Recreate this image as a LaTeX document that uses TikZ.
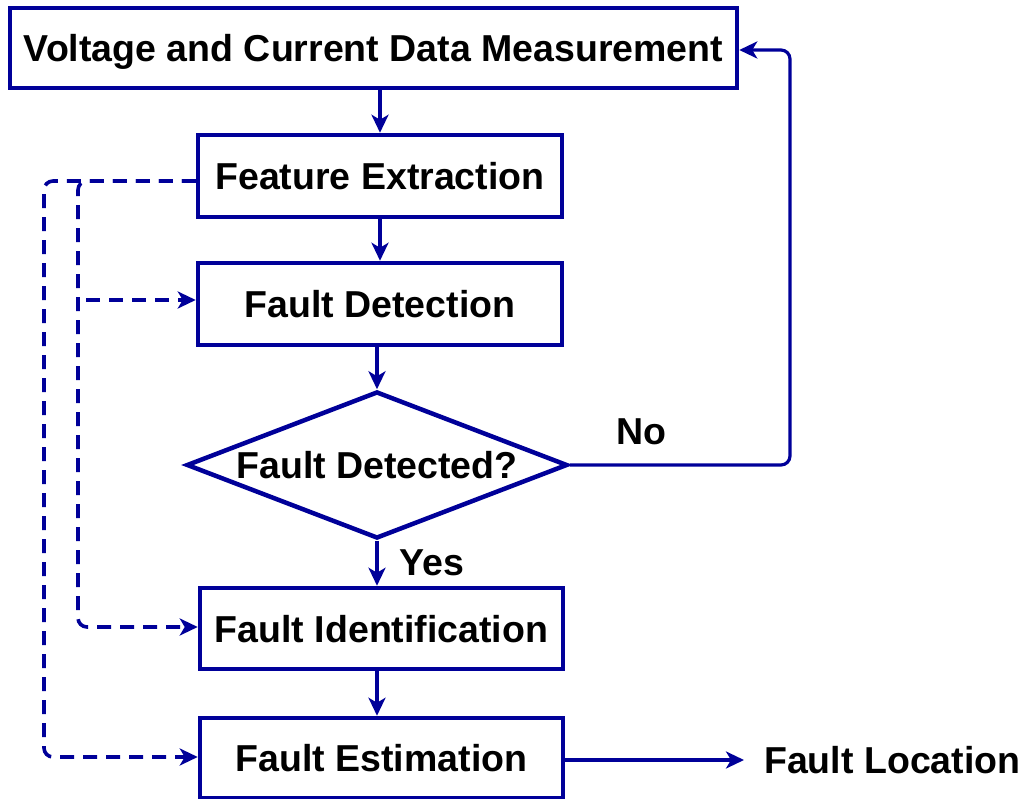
\documentclass[tikz,border=0pt]{standalone}
\usepackage{fontspec}
\setmainfont{Liberation Sans}
\usetikzlibrary{arrows.meta,shapes.geometric}
\definecolor{flowblue}{RGB}{0,0,153}
\tikzset{
  boldtext/.style={font=\fontsize{37.5}{44}\selectfont\bfseries, text=black,
    text height=27pt, text depth=0pt},
  stepbox/.style={draw=flowblue, line width=4.5pt, rectangle, inner sep=0pt, boldtext},
  decision/.style={draw=flowblue, line width=4.5pt, diamond, inner sep=0pt,
    shape aspect=2.59, boldtext},
  lbl/.style={boldtext, inner sep=0pt},
  flow/.style={draw=flowblue, line width=3.2pt,
    -{Stealth[length=18pt, width=17pt, inset=5pt]}},
  feed/.style={flow, dash pattern=on 14pt off 9pt, line width=3.6pt},
}
\begin{document}
\begin{tikzpicture}[x=1pt, y=-1pt]
  \useasboundingbox (0,0) rectangle (1026,799);

  % process steps
  \node[stepbox, minimum width=727pt, minimum height=80pt] (meas) at (373.5,48)
    {Voltage and Current Data Measurement};
  \node[stepbox, minimum width=364pt, minimum height=82pt] (feat) at (380,176)
    {Feature Extraction};
  \node[stepbox, minimum width=364pt, minimum height=82pt] (det) at (380,304)
    {Fault Detection};
  \node[decision, minimum width=381pt, minimum height=147pt] (dec) at (377,465)
    {Fault Detected?};
  \node[stepbox, minimum width=363pt, minimum height=81pt] (ident) at (381.5,628.5)
    {Fault Identification};
  \node[stepbox, minimum width=363pt, minimum height=80pt] (est) at (381.5,758)
    {Fault Estimation};
  \node[lbl, anchor=west] (loc) at (764,760) {Fault Location};

  % branch labels
  \node[lbl] (no) at (641,431) {No};
  \node[lbl] (yes) at (432,562) {Yes};

  % main flow
  \draw[flow] (feat.north |- meas.south) -- (feat.north);
  \draw[flow] (feat.south) -- (det.north);
  \draw[flow] (det.south -| dec.north) -- (dec.north);
  \draw[flow] (dec.south) -- (dec.south |- ident.north);
  \draw[flow] (dec.south |- ident.south) -- (dec.south |- est.north);
  \draw[flow] (est.east |- loc.west) -- ([xshift=-20pt]loc.west);

  % loop back when no fault is found
  \coordinate (loopx) at (790,0);
  \draw[flow, rounded corners=9pt] (dec.east) -- (loopx |- dec.east)
    -- (loopx |- 0,50) -- (meas.east |- 0,50);

  % features passed on to the later stages
  \coordinate (outerx) at (44,0);
  \coordinate (innerx) at (78,0);
  \coordinate (tap) at (86,300);
  \draw[feed, rounded corners=9pt] (feat.west |- 0,181) -- (outerx |- 0,181)
    -- (outerx |- 0,757) -- (est.west |- 0,757);
  \draw[feed, rounded corners=9pt] (feat.west |- 0,181) -- (innerx |- 0,181)
    -- (innerx |- 0,627) -- (ident.west |- 0,627);
  \draw[feed] (tap) -- (det.west |- tap);
\end{tikzpicture}
\end{document}
